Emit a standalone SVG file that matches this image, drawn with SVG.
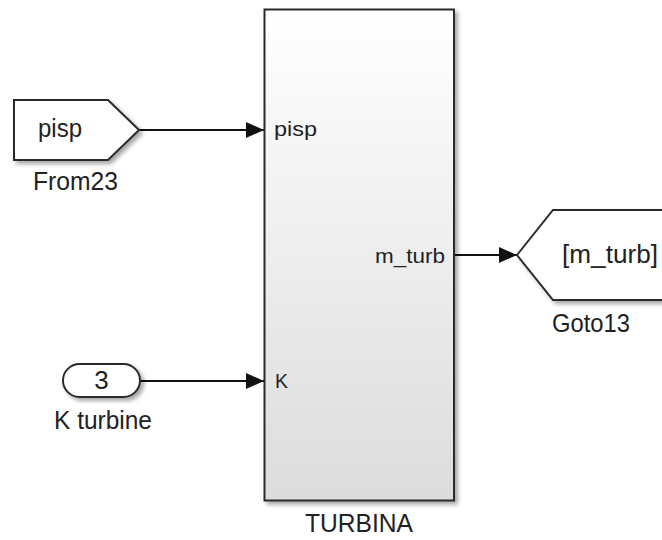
<svg xmlns="http://www.w3.org/2000/svg" width="662" height="540" viewBox="0 0 662 540">
<defs>
<style>
.blk{fill:#fff;stroke:#2a2a2a;stroke-width:2}
.lbl{font-family:"Liberation Sans",Arial,sans-serif;font-size:26px;fill:#222}
.port{font-family:"Liberation Sans",Arial,sans-serif;font-size:20px;fill:#222}
.wire{stroke:#111;stroke-width:2;fill:none}
</style>
<linearGradient id="g" x1="0" y1="0" x2="0" y2="1">
<stop offset="0" stop-color="#ffffff"/>
<stop offset="1" stop-color="#dcdcdc"/>
</linearGradient>
<filter id="sh" x="-10%" y="-10%" width="130%" height="130%">
<feDropShadow dx="3" dy="3" stdDeviation="2" flood-color="#000" flood-opacity="0.35"/>
</filter>
<marker id="arr" viewBox="0 0 18 18" refX="18" refY="9" markerWidth="18" markerHeight="18" markerUnits="userSpaceOnUse" orient="auto">
<path d="M0,1 L18,9 L0,17 z" fill="#111"/>
</marker>
</defs>
<rect width="662" height="540" fill="#fff"/>
<g id="connectors">
<path class="wire" d="M139,130 H264" marker-end="url(#arr)"/>
<path class="wire" d="M454,255 H517" marker-end="url(#arr)"/>
<path class="wire" d="M140,381 H264" marker-end="url(#arr)"/>
</g>
<g id="From23">
<polygon class="blk" filter="url(#sh)" points="14,100 108,100 139,130 108,160 14,160"/>
<text class="lbl" x="38" y="137" textLength="44" lengthAdjust="spacingAndGlyphs">pisp</text>
<text class="lbl" x="33" y="190" textLength="85" lengthAdjust="spacingAndGlyphs">From23</text>
</g>
<g id="TURBINA">
<rect x="264.5" y="9.5" width="189.5" height="491" fill="url(#g)" stroke="#2a2a2a" stroke-width="2" filter="url(#sh)"/>
<text class="port" x="274" y="136" textLength="43" lengthAdjust="spacingAndGlyphs">pisp</text>
<text class="port" x="375" y="263" textLength="70" lengthAdjust="spacingAndGlyphs">m_turb</text>
<text class="port" x="275" y="388" textLength="13" lengthAdjust="spacingAndGlyphs">K</text>
<text class="lbl" x="305" y="532" textLength="108" lengthAdjust="spacingAndGlyphs">TURBINA</text>
</g>
<g id="Goto13">
<polygon class="blk" filter="url(#sh)" points="517,255 553,210 672,210 672,300 553,300"/>
<text class="lbl" x="562" y="263" textLength="96" lengthAdjust="spacingAndGlyphs">[m_turb]</text>
<text class="lbl" x="552" y="332" textLength="78" lengthAdjust="spacingAndGlyphs">Goto13</text>
</g>
<g id="Kturbine">
<rect class="blk" filter="url(#sh)" x="63" y="364" width="77" height="33" rx="16.5"/>
<text class="lbl" x="101.5" y="389" text-anchor="middle" font-size="23">3</text>
<text class="lbl" x="54" y="429" textLength="98" lengthAdjust="spacingAndGlyphs">K turbine</text>
</g>
</svg>
